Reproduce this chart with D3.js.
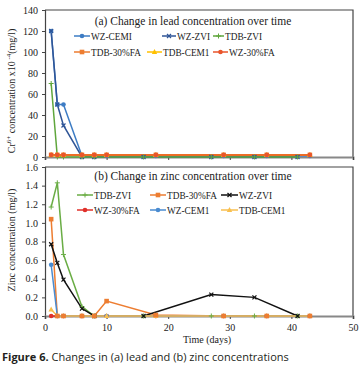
<!DOCTYPE html>
<html>
<head>
<meta charset="utf-8">
<script src="https://cdn.jsdelivr.net/npm/d3@7"></script>
<style>
  body { margin: 0; background: #fff; }
  svg { display: block; }
  text { font-family: "Liberation Serif", "Times New Roman", serif; fill: #222; }
  .caption { font-family: "Open Sans", "Noto Sans", sans-serif; fill: #231f20; }
</style>
</head>
<body>
<div id="chart"></div>
<script>
const width = 363, height = 378;

// days sampled
const daysFA = [1, 2, 3, 6, 8, 10, 18, 29, 36, 43];
const daysZVI = [1, 2, 3, 6, 8, 16, 27, 34, 41];

// (a) lead, x10^-4 mg/l
const leadWZCEM1 = [120, 50, 50, 1, 1, 1, 1, 1, 1, 1];
const leadWZZVI = [120, 50, 30, 0, 0, 0, 0, 0, 0];
const leadTDBZVI = [70, 0, 0, 0, 0, 0, 0, 0, 0];
const leadTDB30FA = [2, 2, 2, 2, 2, 2, 2, 2, 2, 2];
const leadTDBCEM1 = [2, 2, 2, 2, 2, 2, 2, 2, 2, 2];
const leadWZ30FA = [2, 2, 2, 2, 2, 2, 2, 2, 2, 2];

// (b) zinc, mg/l
const zincTDBZVI = [1.17, 1.43, 0.66, 0.1, 0, 0, 0, 0, 0];
const zincTDB30FA = [1.04, 0, 0, 0, 0, 0.16, 0.01, 0, 0, 0];
const zincWZZVI = [0.77, 0.57, 0.39, 0.08, 0, 0, 0.23, 0.2, 0];
const zincWZ30FA = [0, 0, 0, 0, 0, 0, 0, 0, 0, 0];
const zincWZCEM1 = [0.55, 0, 0, 0, 0, 0, 0, 0, 0, 0];
const zincTDBCEM1 = [0.07, 0, 0, 0, 0, 0, 0, 0, 0, 0];

const xTicks = [0, 10, 20, 30, 40, 50];
const leadTicks = [0, 20, 40, 60, 80, 100, 120, 140];
const zincTicks = [0, 0.2, 0.4, 0.6, 0.8, 1.0, 1.2, 1.4, 1.6];

const zip = (xs, ys) => xs.map((d, i) => ({x: d, y: ys[i]}));

const leadSeries = [
  {name: "WZ-CEMI", data: zip(daysFA, leadWZCEM1), color: "#3d7cc4", marker: "circle"},
  {name: "WZ-ZVI", data: zip(daysZVI, leadWZZVI), color: "#2f5597", marker: "x"},
  {name: "TDB-ZVI", data: zip(daysZVI, leadTDBZVI), color: "#5fa63c", marker: "plus"},
  {name: "TDB-30%FA", data: zip(daysFA, leadTDB30FA), color: "#ed7d31", marker: "square"},
  {name: "TDB-CEM1", data: zip(daysFA, leadTDBCEM1), color: "#ffc000", marker: "triangle"},
  {name: "WZ-30%FA", data: zip(daysFA, leadWZ30FA), color: "#e9552b", marker: "circle"}
];

const zincSeries = [
  {name: "TDB-ZVI", data: zip(daysZVI, zincTDBZVI), color: "#6aad45", marker: "plus"},
  {name: "TDB-30%FA", data: zip(daysFA, zincTDB30FA), color: "#ed7d31", marker: "square"},
  {name: "WZ-ZVI", data: zip(daysZVI, zincWZZVI), color: "#111", marker: "x"},
  {name: "WZ-30%FA", data: zip(daysFA, zincWZ30FA), color: "#e0302a", marker: "circle"},
  {name: "WZ-CEM1", data: zip(daysFA, zincWZCEM1), color: "#4a8bd0", marker: "circle"},
  {name: "TDB-CEM1", data: zip(daysFA, zincTDBCEM1), color: "#f8bf4f", marker: "triangle"}
];

const svg = d3.select("#chart").append("svg")
  .attr("width", width).attr("height", height);

const x = d3.scaleLinear().domain([0, 50]).range([45, 353]);

function drawMarker(g, type, color, px, py) {
  if (type === "circle") {
    g.append("circle").attr("cx", px).attr("cy", py).attr("r", 2.3).attr("fill", color);
  } else if (type === "square") {
    g.append("rect").attr("x", px - 2.3).attr("y", py - 2.3).attr("width", 4.6).attr("height", 4.6).attr("fill", color);
  } else if (type === "triangle") {
    g.append("path").attr("d", `M${px},${py - 3}L${px + 2.7},${py + 2}L${px - 2.7},${py + 2}Z`).attr("fill", color);
  } else if (type === "x") {
    g.append("path").attr("d", `M${px - 2},${py - 2}L${px + 2},${py + 2}M${px - 2},${py + 2}L${px + 2},${py - 2}`)
      .attr("stroke", color).attr("stroke-width", 1.2);
  } else if (type === "plus") {
    g.append("path").attr("d", `M${px - 2.5},${py}L${px + 2.5},${py}M${px},${py - 2.5}L${px},${py + 2.5}`)
      .attr("stroke", color).attr("stroke-width", 1);
  }
}

function panel(cfg) {
  const y = d3.scaleLinear().domain(cfg.domain).range([cfg.bottom, cfg.top]);
  const g = svg.append("g");

  // frame
  g.append("path")
    .attr("d", `M${x(0)},${cfg.top}H${x(50)}V${cfg.bottom}`)
    .attr("fill", "none").attr("stroke", "#444").attr("stroke-width", 1.2);

  // y axis
  const ya = g.append("g").attr("transform", `translate(${x(0)},0)`)
    .call(d3.axisLeft(y).tickValues(cfg.ticks).tickSize(3).tickFormat(cfg.fmt));
  ya.select(".domain").attr("stroke", "#444").attr("stroke-width", 1.2);
  ya.selectAll(".tick line").attr("stroke", "#444");
  ya.selectAll("text").attr("font-size", 10).attr("font-family", "Liberation Serif").attr("fill", "#222").attr("dx", -1);

  // x axis
  const xa = g.append("g").attr("transform", `translate(0,${cfg.bottom})`)
    .call(d3.axisBottom(x).tickValues(xTicks).tickSize(3).tickFormat(cfg.xlabels ? d3.format("d") : ""));
  xa.select(".domain").attr("stroke", "#888").attr("stroke-width", 2);
  xa.selectAll(".tick line").attr("stroke", "#444");
  xa.selectAll("text").attr("font-size", 10).attr("font-family", "Liberation Serif").attr("fill", "#222").attr("dy", "0.9em");

  const line = d3.line().x(d => x(d.x)).y(d => y(d.y));
  const lines = g.append("g");
  cfg.series.forEach(s => {
    lines.append("path").datum(s.data).attr("d", line)
      .attr("fill", "none").attr("stroke", s.color).attr("stroke-width", 1.5);
  });
  const marks = g.append("g");
  cfg.markerOrder.forEach(i => {
    const s = cfg.series[i];
    s.data.forEach(d => drawMarker(marks, s.marker, s.color, x(d.x), y(d.y)));
  });

  // title
  g.append("text").attr("x", cfg.titleX).attr("y", cfg.titleY)
    .attr("text-anchor", "middle").attr("font-size", 11.5).text(cfg.title);

  // legend
  cfg.series.forEach((s, i) => {
    const lx = cfg.legendX[i], ly = cfg.legendY[i], len = cfg.legendLen[i];
    const lg = g.append("g");
    lg.append("line").attr("x1", lx - len - 1).attr("x2", lx - 1).attr("y1", ly).attr("y2", ly)
      .attr("stroke", s.color).attr("stroke-width", 1.5);
    drawMarker(lg, s.marker, s.color, lx - 1 - len / 2, ly);
    lg.append("text").attr("x", lx).attr("y", ly + 3.5).attr("font-size", 9.3).text(s.name);
  });
  return y;
}

panel({
  domain: [0, 140], top: 10, bottom: 157, ticks: leadTicks, fmt: d3.format("d"), xlabels: false,
  series: leadSeries, markerOrder: [0, 1, 2, 3, 4, 5],
  title: "(a) Change in lead concentration over time", titleX: 193, titleY: 25,
  legendX: [91, 177, 225, 91, 163, 229], legendY: [36, 36, 36, 52, 52, 52],
  legendLen: [16, 14, 11, 16, 15, 15]
});

panel({
  domain: [0, 1.6], top: 167, bottom: 316, ticks: zincTicks, fmt: d3.format(".1f"), xlabels: true,
  series: zincSeries, markerOrder: [3, 4, 5, 0, 2, 1],
  title: "(b) Change in zinc concentration over time", titleX: 193, titleY: 180,
  legendX: [94, 167, 239, 94, 167, 239], legendY: [195, 195, 195, 210, 210, 210],
  legendLen: [16, 16, 17, 16, 16, 17]
});

// axis titles
const ylab = svg.append("text")
  .attr("transform", "translate(15,91) rotate(-90)")
  .attr("text-anchor", "middle").attr("font-size", 10);
ylab.append("tspan").text("Cr");
ylab.append("tspan").attr("font-size", 7).attr("dy", -4).text("6+");
ylab.append("tspan").attr("dy", 4).text(" concentration x10");
ylab.append("tspan").attr("font-size", 7).attr("dy", -4).text(" -4");
ylab.append("tspan").attr("dy", 4).text("(mg/l)");

svg.append("text")
  .attr("transform", "translate(15,240) rotate(-90)")
  .attr("text-anchor", "middle").attr("font-size", 10)
  .text("Zinc concentration (mg/l)");

svg.append("text").attr("x", 207).attr("y", 343)
  .attr("text-anchor", "middle").attr("font-size", 10).text("Time (days)");

// caption
const cap = svg.append("text").attr("class", "caption").attr("x", 2).attr("y", 361).attr("font-size", 11);
cap.append("tspan").attr("font-weight", "bold").text("Figure 6.");
cap.append("tspan").text(" Changes in (a) lead and (b) zinc concentrations");
</script>
</body>
</html>
